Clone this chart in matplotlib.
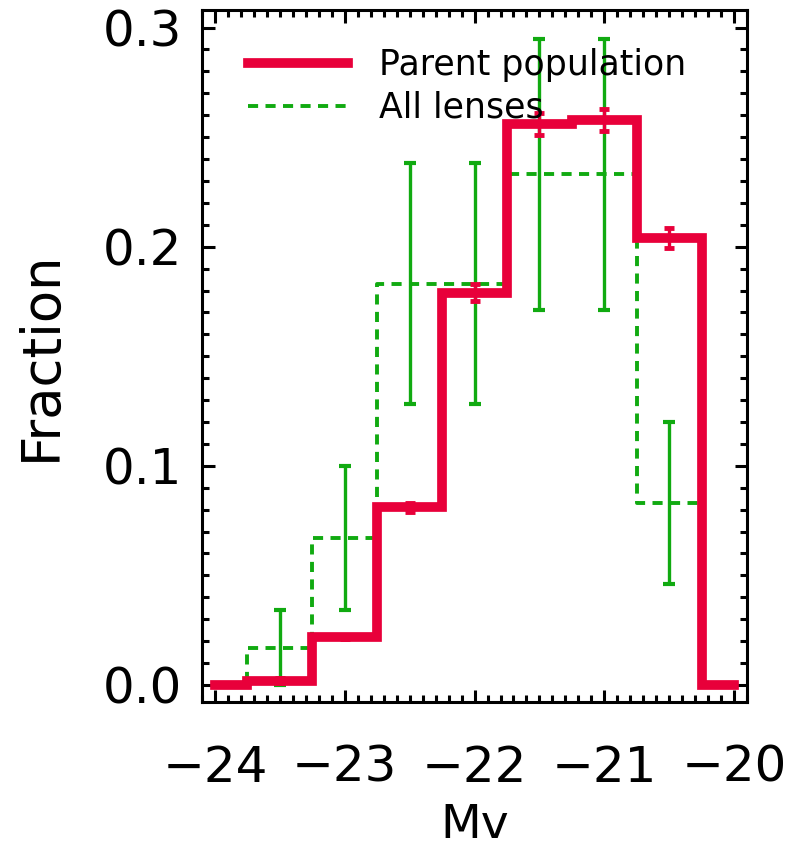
import numpy as np
import matplotlib
matplotlib.use('Agg')
from matplotlib import pyplot as plt
from matplotlib.ticker import MultipleLocator

# bin centres (Mv)
mv = [-24.0, -23.5, -23.0, -22.5, -22.0, -21.5, -21.0, -20.5, -20.0]

# parent population
parentFrac = [0.0, 0.002, 0.022, 0.081, 0.179, 0.256, 0.258, 0.204, 0.0]
parentErr = [0.0, 0.001, 0.001, 0.002, 0.004, 0.005, 0.005, 0.0045, 0.0]

# all lenses
lensFrac = [0.0, 0.017, 0.067, 0.183, 0.183, 0.233, 0.233, 0.083, 0.0]
lensErr = [0.0, 0.017, 0.033, 0.055, 0.055, 0.062, 0.062, 0.037, 0.0]

red = '#e8003a'
green = '#11aa11'

fig = plt.figure(figsize=(7.9, 8.58), dpi=100)
ax = fig.add_axes([0.2557, 0.1818, 0.690, 0.8065])

lensLine, = ax.plot(mv, lensFrac, drawstyle='steps-mid', color=green,
                    lw=2.8, dashes=(2.6, 1.9), zorder=2)
ax.errorbar(mv[1:-1], lensFrac[1:-1], yerr=lensErr[1:-1], fmt='none',
            ecolor=green, elinewidth=2.4, capsize=4, capthick=3, zorder=2)

parentLine, = ax.plot(mv, parentFrac, drawstyle='steps-mid', color=red,
                      lw=7, zorder=3, solid_joinstyle='miter')
ax.errorbar(mv[1:-1], parentFrac[1:-1], yerr=parentErr[1:-1], fmt='none',
            ecolor=red, elinewidth=2.4, capsize=3.3, capthick=3.5, zorder=4)

ax.set_xlim(-24.1, -19.9)
ax.set_ylim(-0.0078, 0.308)
ax.xaxis.set_minor_locator(MultipleLocator(0.1))
ax.yaxis.set_minor_locator(MultipleLocator(0.01))
ax.set_xticks([-24, -23, -22, -21, -20])
ax.set_xticklabels(['\u221224', '\u221223', '\u221222', '\u221221', '\u221220'])
ax.set_yticks([0.0, 0.1, 0.2, 0.3])
ax.set_yticklabels(['0.0', '0.1', '0.2', '0.3'])

ax.tick_params(which='both', direction='in', top=True, right=True, width=2.2, color='black')
ax.tick_params(which='major', length=9)
ax.tick_params(which='minor', length=5)
ax.tick_params(axis='x', which='major', labelsize=36, pad=30)
ax.tick_params(axis='y', which='major', labelsize=36, pad=14)
for s in ax.spines.values():
    s.set_linewidth(2.2)

ax.set_xlabel('Mv', fontsize=34, labelpad=8)
ax.set_ylabel('Fraction', fontsize=38, labelpad=26)

ax.legend([parentLine, lensLine], ['Parent population', 'All lenses'],
          loc='upper left', bbox_to_anchor=(0.027, 0.99), frameon=False,
          fontsize=25, handlelength=2.88, handletextpad=0.9, labelspacing=0.25)

plt.savefig('out.png', dpi=100)
